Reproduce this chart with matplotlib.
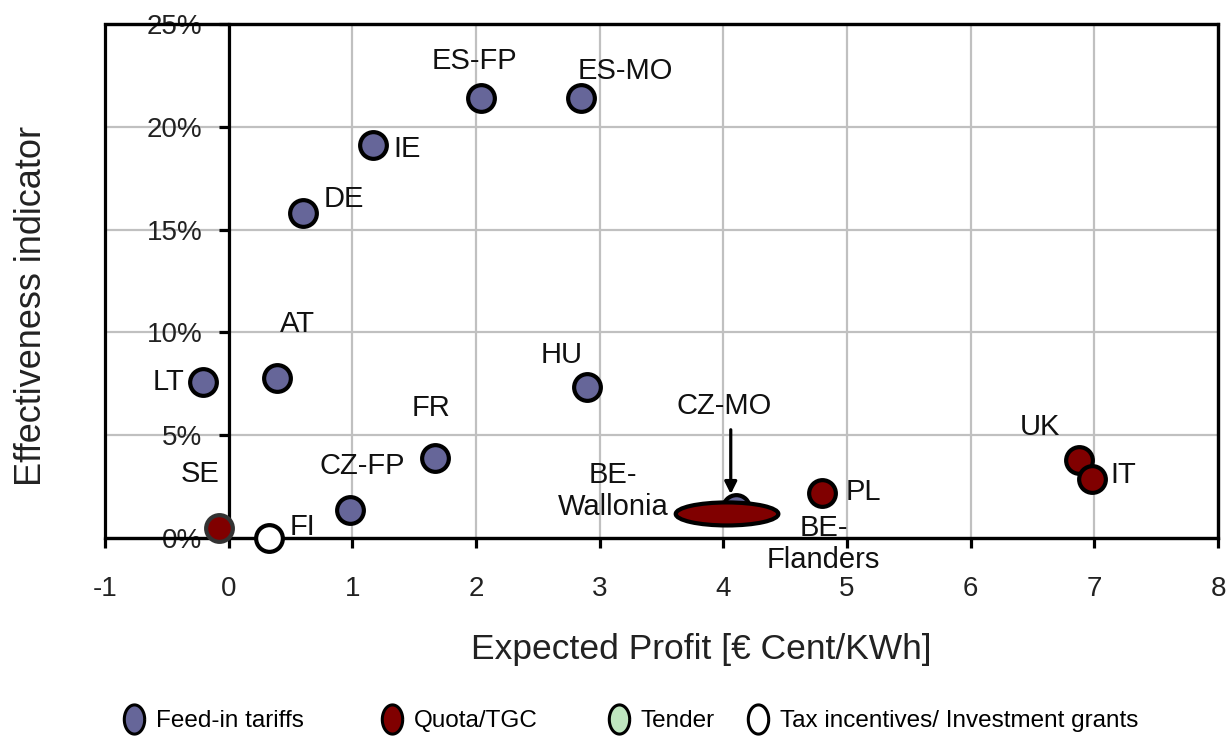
import matplotlib
matplotlib.use("Agg")
import matplotlib.pyplot as plt
from matplotlib.patches import Ellipse, Rectangle
from matplotlib.lines import Line2D
from matplotlib.path import Path
import numpy as np

plt.rcParams['font.family'] = ['Liberation Sans', 'DejaVu Sans']

# ---- data ----
labels = ["ES-FP", "ES-MO", "IE", "DE", "AT", "LT", "HU", "FR", "CZ-FP",
          "SE", "FI", "CZ-MO", "PL", "UK", "IT"]
profit = [2.04, 2.85, 1.17, 0.60, 0.39, -0.21, 2.90, 1.67, 0.98,
          -0.08, 0.33, 4.10, 4.80, 6.88, 6.98]
effect = [21.4, 21.4, 19.1, 15.8, 7.8, 7.6, 7.35, 3.9, 1.35,
          0.5, 0.0, 1.45, 2.2, 3.8, 2.85]
instrument = ["FIT", "FIT", "FIT", "FIT", "FIT", "FIT", "FIT", "FIT", "FIT",
              "Quota", "Tax", "FIT", "Quota", "Quota", "Quota"]

# label positions (text anchors)
label_x = [1.99, 3.21, 1.335, 0.93, 0.56, -0.49, 2.69, 1.64, 1.08,
           -0.23, 0.60, 4.01, 5.13, 6.56, 7.23]
label_y = [23.2, 22.7, 18.9, 16.5, 10.4, 7.6, 8.9, 6.3, 3.5,
           3.1, 0.54, 6.4, 2.24, 5.4, 3.07]

# Belgium (quota) ellipse and its labels
be_center = (4.03, 1.17)
be_size = (0.83, 1.12)
be_labels = ["BE-\nWallonia", "BE-\nFlanders"]
be_label_x = [3.11, 4.81]
be_label_y = [2.3, -0.3]

xticks = list(range(-1, 9))
yticks = [0, 5, 10, 15, 20, 25]
ytick_labels = ["0%", "5%", "10%", "15%", "20%", "25%"]

legend_names = ["Feed-in tariffs", "Quota/TGC", "Tender",
                "Tax incentives/ Investment grants"]
colors = {"FIT": "#666699", "Quota": "#800000", "Tender": "#bfe6bf", "Tax": "#ffffff"}
legend_keys = ["FIT", "Quota", "Tender", "Tax"]

# ---- figure ----
fig = plt.figure(figsize=(12.27, 7.39), dpi=100)
ax = fig.add_axes([105/1227, 1-538/739, (1218-105)/1227, (538-24)/739])
ax.set_xlim(-1, 8)
ax.set_ylim(0, 25)

# grid
for xv in xticks[1:-1]:
    ax.axvline(xv, color="#c0c0c0", lw=1.6, zorder=0)
for yv in yticks[1:-1]:
    ax.axhline(yv, color="#c0c0c0", lw=1.6, zorder=0)

# spines: left spine at x=0
for s in ["top", "right", "bottom"]:
    ax.spines[s].set_linewidth(2.3)
    ax.spines[s].set_zorder(5)
ax.spines['left'].set_position(('data', 0))
ax.spines['left'].set_linewidth(2.3)
ax.spines['left'].set_zorder(5)
ax.add_patch(Rectangle((0, 0), 1, 1, transform=ax.transAxes, fill=False,
                       lw=2.3, ec="black", zorder=5, clip_on=False))

ax.set_xticks(xticks)
ax.set_xticklabels([str(v) for v in xticks])
ax.set_yticks(yticks)
ax.set_yticklabels(ytick_labels)
ax.tick_params(axis='x', direction='out', length=7, width=2.3, pad=20,
               labelsize=20, labelcolor="#222222")
ax.tick_params(axis='y', direction='out', length=7, width=2.3, pad=12,
               labelsize=20, labelcolor="#222222")

# points
for xi, yi, inst in zip(profit, effect, instrument):
    ec = "#333333" if (inst == "Quota" and xi < 0) else "black"
    ax.scatter([xi], [yi], s=370, c=colors[inst], edgecolors=ec,
               linewidths=3.0, zorder=6, clip_on=False)

# Belgium ellipse
ax.add_patch(Ellipse(be_center, be_size[0], be_size[1], fc=colors["Quota"],
                     ec="black", lw=3.0, zorder=7))

# labels
for lx, ly, t in zip(label_x, label_y, labels):
    ha = "left" if t == "IE" else "center"
    ax.text(lx, ly, t, fontsize=21, ha=ha, va="center", color="#111111", zorder=8)
for lx, ly, t in zip(be_label_x, be_label_y, be_labels):
    ax.text(lx, ly, t, fontsize=21, ha="center", va="center", color="#111111",
            zorder=4, linespacing=1.2, clip_on=False)

# CZ-MO arrow
ax.annotate("", xy=(4.06, 2.0), xytext=(4.06, 5.4),
            arrowprops=dict(arrowstyle="-|>", color="black", lw=2.3,
                            mutation_scale=18), zorder=8)

# axis labels
fig.text(701/1227, 1-650/739, "Expected Profit [€ Cent/KWh]", fontsize=25.5,
         ha="center", va="center", color="#222222")
fig.text(32/1227, 1-306/739, "Effectiveness indicator", fontsize=26,
         ha="center", va="center", rotation=90, color="#222222")

# legend with tall elliptical markers
t = np.linspace(0, 2*np.pi, 60)
ell_path = Path(np.column_stack([0.7*np.cos(t), np.sin(t)]))
legend_x = [124/1227, 382/1227, 609/1227, 748/1227]
for key, name, lxp in zip(legend_keys, legend_names, legend_x):
    h = Line2D([], [], marker=ell_path, linestyle="none", markersize=21,
               markerfacecolor=colors[key], markeredgecolor="black",
               markeredgewidth=2.2)
    fig.legend(handles=[h], labels=[name], loc="center left",
               bbox_to_anchor=(lxp, 1-721/739), frameon=False, fontsize=17.5,
               handlelength=0.8, handletextpad=0.5, borderpad=0, borderaxespad=0)

fig.savefig("out.png", dpi=100)
